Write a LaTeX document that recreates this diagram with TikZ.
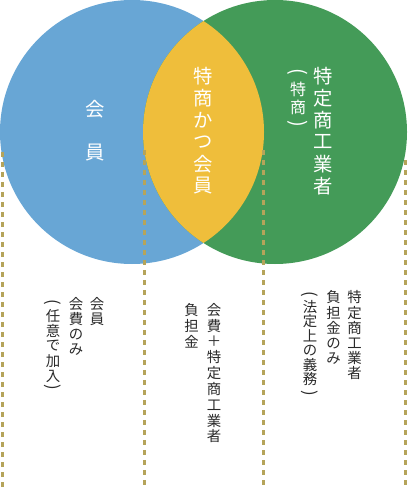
\documentclass[tikz,border=0pt]{standalone}
\usepackage{fontspec}
\newfontfamily\jp{Noto Sans CJK JP}
\definecolor{cblue}{HTML}{68A6D5}
\definecolor{cgreen}{HTML}{449B58}
\definecolor{cyellow}{HTML}{EFBE3B}
\definecolor{cdot}{HTML}{B5A45A}
\definecolor{ctext}{HTML}{2A2A2A}
\begin{document}
\begin{tikzpicture}[x=0.75pt,y=-0.75pt,
  dotline/.style={draw=cdot, line width=2.25pt, dash pattern=on 3.75pt off 3.75pt},
  wbig/.style={inner sep=0pt, text=white, font=\jp\fontsize{14.5}{14.5}\selectfont},
  wmid/.style={inner sep=0pt, text=white, font=\jp\fontsize{12}{12}\selectfont},
  wpar/.style={inner sep=0pt, text=white, rotate=-90, font=\jp\fontsize{15}{15}\selectfont},
  bt/.style={inner sep=0pt, text=ctext, font=\jp\fontsize{10.8}{10.8}\selectfont},
  btp/.style={inner sep=0pt, text=ctext, rotate=-90, font=\jp\fontsize{12.5}{12.5}\selectfont}]
\useasboundingbox (0,0) rectangle (407,488);
% circles
\fill[cblue] (132,132) circle[radius=99pt];
\fill[cgreen] (275,132) circle[radius=99pt];
\begin{scope}
  \clip (132,132) circle[radius=99pt];
  \fill[cyellow] (275,132) circle[radius=99pt];
\end{scope}
% dotted lines
\coordinate (l1t) at (2.5,152); \coordinate (l1b) at (2.5,488);
\coordinate (l2t) at (144,150); \coordinate (l2b) at (144,488);
\coordinate (l3t) at (263,150); \coordinate (l3b) at (263,488);
\coordinate (l4t) at (405,160); \coordinate (l4b) at (405,488);
\draw[dotline] (l1t) -- (l1b);
\draw[dotline] (l2t) -- (l2b);
\draw[dotline] (l3t) -- (l3b);
\draw[dotline] (l4t) -- (l4b);
% circle texts
\node[wbig] (kai) at (95,109) {会};
\node[wbig] (in) at (95,153) {員};
\foreach \c [count=\i from 0] in {特,商,か,つ,会,員}
  \node[wbig] (lens\i) at (203,76+22*\i) {\c};
\foreach \c [count=\i from 0] in {特,定,商,工,業,者}
  \node[wbig] (tok\i) at (323.5,76+22*\i) {\c};
\node[wpar] (tp0) at (298,72) {(};
\node[wmid] (tp1) at (298,89.5) {特};
\node[wmid] (tp2) at (298,107.5) {商};
\node[wpar] (tp3) at (298,124) {)};
% bottom texts: left group
\foreach \c [count=\i from 0] in {会,員}
  \node[bt] (a\i) at (97,304.5+15*\i) {\c};
\foreach \c [count=\i from 0] in {会,費,の,み}
  \node[bt] (b\i) at (76,304.5+15*\i) {\c};
\node[btp] (c0) at (53,302) {(};
\foreach \c [count=\i from 1] in {任,意,で,加,入}
  \node[bt] (c\i) at (53,301+15*\i) {\c};
\node[btp] (c6) at (53,387) {)};
% middle group
\foreach \c [count=\i from 0] in {会,費,＋,特,定,商,工,業,者}
  \node[bt] (d\i) at (214,310+15.8*\i) {\c};
\foreach \c [count=\i from 0] in {負,担,金}
  \node[bt] (e\i) at (191.5,310+15.8*\i) {\c};
% right group
\foreach \c [count=\i from 0] in {特,定,商,工,業,者}
  \node[bt] (f\i) at (354.5,297.5+15.2*\i) {\c};
\foreach \c [count=\i from 0] in {負,担,金,の,み}
  \node[bt] (g\i) at (333.5,297.5+15.2*\i) {\c};
\node[btp] (h0) at (310,294.5) {(};
\foreach \c [count=\i from 1] in {法,定,上,の,義,務}
  \node[bt] (h\i) at (310,292.5+14.5*\i) {\c};
\node[btp] (h7) at (310,393) {)};
\end{tikzpicture}
\end{document}
